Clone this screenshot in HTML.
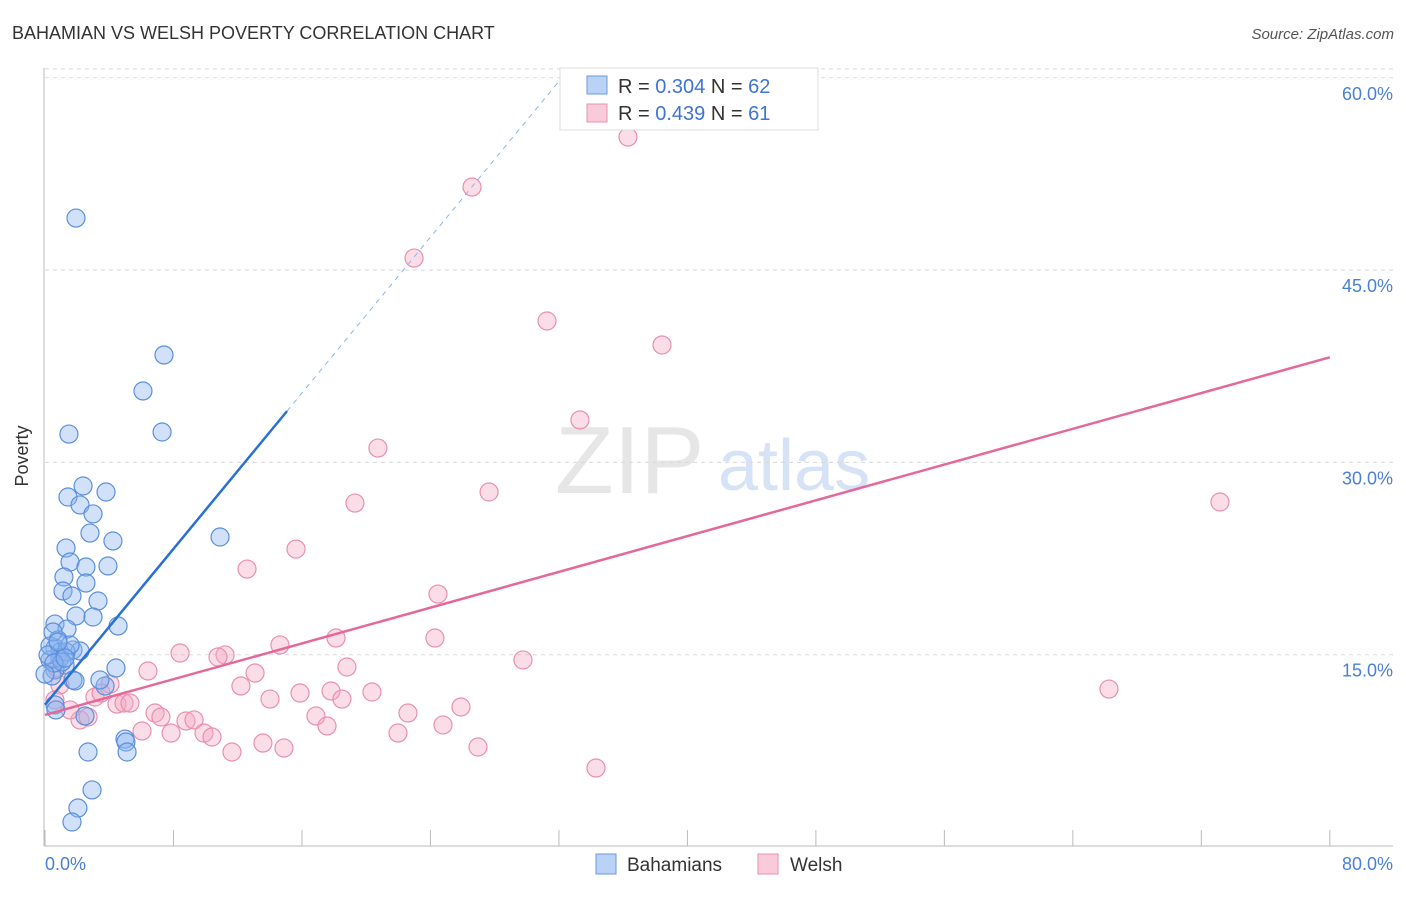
<!DOCTYPE html>
<html><head><meta charset="utf-8"><style>
body{margin:0;background:#fff;font-family:"Liberation Sans",sans-serif}
svg text{font-family:"Liberation Sans",sans-serif}
</style></head><body>
<svg id="c" width="1406" height="892">
<text x="12" y="39" font-size="18" fill="#333">BAHAMIAN VS WELSH POVERTY CORRELATION CHART</text>
<text x="1394" y="39" font-size="15" fill="#555" font-style="italic" text-anchor="end">Source: ZipAtlas.com</text>
<text x="28" y="456" font-size="18" fill="#333" text-anchor="middle" transform="rotate(-90 28 456)">Poverty</text>
<g>
<text x="555" y="493" font-size="96" fill="#e6e6e6" font-family="Liberation Serif,serif">ZIP</text>
<text x="718" y="490" font-size="72" fill="#d6e2f5">atlas</text>
</g>
<g id="grid"></g><g id="axes"></g><g id="pts"></g><g id="lines"></g>
<g>
<rect x="560" y="68" width="258" height="62" fill="#fff" stroke="#ddd"/>
<rect x="587" y="76" width="20" height="18" fill="#b9d2f5" stroke="#6a9ae0"/>
<text x="618" y="93" font-size="20" fill="#333">R = <tspan fill="#3f74d6">0.304</tspan>   N = <tspan fill="#3f74d6">62</tspan></text>
<rect x="587" y="104" width="20" height="18" fill="#f9cad9" stroke="#e890ae"/>
<text x="618" y="120" font-size="20" fill="#333">R = <tspan fill="#3f74d6">0.439</tspan>   N = <tspan fill="#3f74d6"> 61</tspan></text>
</g>
<g>
<rect x="596" y="854" width="20" height="20" fill="#b9d2f5" stroke="#6a9ae0"/>
<text x="627" y="871" font-size="19" fill="#333">Bahamians</text>
<rect x="758" y="854" width="20" height="20" fill="#f9cad9" stroke="#e890ae"/>
<text x="790" y="871" font-size="19" fill="#333">Welsh</text>
</g>
</svg>
<script>
const blueX=[1.93,7.41,6.10,7.29,1.49,2.37,3.80,1.43,2.18,2.99,10.90,4.23,2.80,1.31,1.56,3.92,2.55,1.18,1.12,2.55,1.68,3.30,1.93,2.99,4.55,0.62,1.37,0.81,0.62,0.93,1.74,2.18,0.31,1.25,0.62,4.42,1.74,1.87,3.74,0.44,0.93,1.31,0.62,0.68,2.49,4.98,5.04,5.11,2.68,2.93,2.05,1.68,0.31,0.50,0.19,1.06,0.56,0.0,1.56,0.81,1.25,3.42];
const blueY=[49.06,38.38,35.57,32.37,32.21,28.16,27.69,27.30,26.68,25.98,24.18,23.87,24.49,23.32,22.23,21.92,21.84,21.06,19.97,20.59,19.58,19.19,18.02,17.94,17.24,17.39,17.00,16.15,15.52,15.21,15.37,15.29,14.59,14.20,13.81,13.96,13.03,12.95,12.56,13.34,14.74,15.21,11.08,10.69,10.22,8.42,8.19,7.41,7.41,4.45,3.04,1.95,15.68,16.77,14.98,14.43,14.35,13.49,15.76,15.99,14.74,13.03];
const pinkX=[36.30,26.59,22.98,31.26,38.42,33.31,20.73,27.65,19.30,73.16,15.63,12.58,24.47,18.12,24.28,14.63,11.21,8.41,10.77,29.76,6.41,18.80,13.08,4.05,66.25,12.20,15.88,17.81,20.36,3.11,14.01,18.49,3.49,0.93,4.48,4.92,5.29,6.85,7.22,8.78,9.28,16.87,22.60,25.90,17.56,24.78,2.18,1.56,2.68,6.04,7.85,9.90,10.40,21.98,13.57,14.88,26.96,11.64,34.31,0.62,0.75];
const pinkY=[55.38,51.48,45.94,41.03,39.16,33.31,31.12,27.69,26.83,26.91,23.24,21.68,19.73,16.30,16.30,15.76,14.98,15.13,14.82,14.59,13.73,14.04,13.57,12.71,12.32,12.56,12.01,12.17,12.09,11.70,11.54,11.54,12.01,12.64,11.15,11.23,11.23,10.45,10.14,9.83,9.91,10.22,10.45,10.92,9.44,9.52,9.91,10.69,10.14,9.05,8.89,8.89,8.58,8.89,8.11,7.72,7.80,7.41,6.16,11.47,13.96];
const yTicks=[15,30,45,60];
const yTickLabels=["15.0%","30.0%","45.0%","60.0%"];
const xTicks=[0,8,16,24,32,40,48,56,64,72,80];
const blueTrend=[0,11.1,15.07,34.0];
const pinkTrend=[0,10.3,80,38.2];
const NS="http://www.w3.org/2000/svg";
const sx=v=>45+v*16.06, sy=v=>847-v*12.82;
function mk(t,a,p){const e=document.createElementNS(NS,t);for(const k in a)e.setAttribute(k,a[k]);p.appendChild(e);return e;}
const grid=document.getElementById('grid'),axes=document.getElementById('axes'),pts=document.getElementById('pts'),lines=document.getElementById('lines');
yTicks.forEach((t,i)=>{
 const l=mk('line',{x1:45,x2:1393,y1:sy(t),y2:sy(t),stroke:'#d8d8d8','stroke-dasharray':'4 4'},grid);
 
 
 const tx=mk('text',{x:1393,y:sy(t)+22,'font-size':18,fill:'#4a7fd8','text-anchor':'end'},axes);
 tx.textContent=yTickLabels[i];
 
 
});
const tl=mk('line',{x1:45,x2:1393,y1:sy(60.7),y2:sy(60.7),stroke:'#d8d8d8','stroke-dasharray':'4 4'},grid);


const ya=mk('line',{x1:44,x2:44,y1:68,y2:846,stroke:'#bbb'},axes);


const xa=mk('line',{x1:44,x2:1393,y1:846,y2:846,stroke:'#bbb'},axes);


xTicks.forEach(t=>{
 const l=mk('line',{x1:sx(t),x2:sx(t),y1:830,y2:846,stroke:'#bbb'},axes);
 
 
});
const x0=mk('text',{x:45,y:870,'font-size':18,fill:'#4a7fd8'},axes);x0.textContent='0.0%';


const x1=mk('text',{x:1393,y:870,'font-size':18,fill:'#4a7fd8','text-anchor':'end'},axes);x1.textContent='80.0%';


pinkX.forEach((x,i)=>{
 const c=mk('circle',{cx:sx(x),cy:sy(pinkY[i]),r:9,fill:'rgba(246,170,196,0.4)',stroke:'#e890ae','stroke-width':1.2},pts);
 
 
});
blueX.forEach((x,i)=>{
 const c=mk('circle',{cx:sx(x),cy:sy(blueY[i]),r:9,fill:'rgba(140,180,240,0.4)',stroke:'#5b8fdc','stroke-width':1.2},pts);
 
 
});
const bs=(blueTrend[3]-blueTrend[1])/(blueTrend[2]-blueTrend[0]);
const xe=(60-blueTrend[1])/bs;
const bd=mk('line',{x1:sx(blueTrend[2]),y1:sy(blueTrend[3]),x2:sx(xe),y2:sy(60),stroke:'#8fb5e6','stroke-width':1,'stroke-dasharray':'5 5'},lines);


const bl=mk('line',{x1:sx(blueTrend[0]),y1:sy(blueTrend[1]),x2:sx(blueTrend[2]),y2:sy(blueTrend[3]),stroke:'#2a6fd6','stroke-width':2.5},lines);


const pl=mk('line',{x1:sx(pinkTrend[0]),y1:sy(pinkTrend[1]),x2:sx(pinkTrend[2]),y2:sy(pinkTrend[3]),stroke:'#e4689a','stroke-width':2.5},lines);


</script>
</body></html>
